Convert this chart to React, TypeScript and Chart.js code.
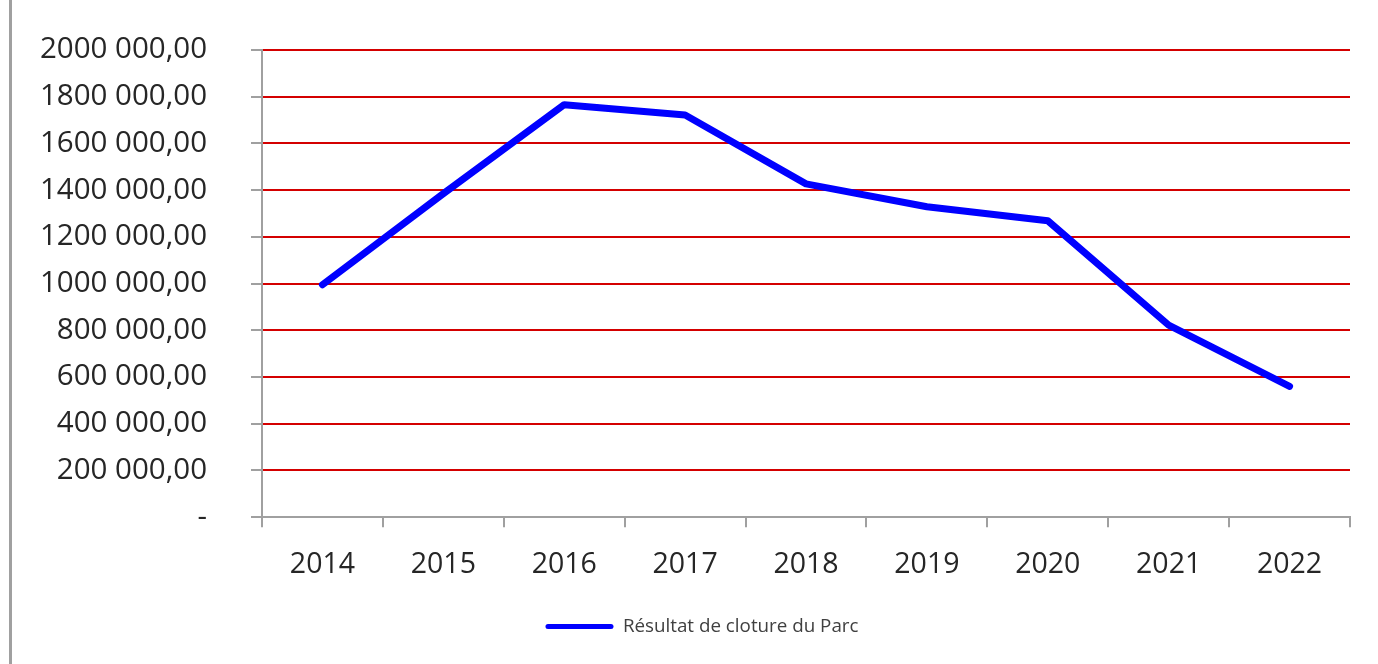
import React, { useEffect, useRef } from 'react';
import { Chart, registerables } from 'chart.js';

Chart.register(...registerables);

const years = ['2014', '2015', '2016', '2017', '2018', '2019', '2020', '2021', '2022'];
const resultat = [995000, 1385000, 1766000, 1722000, 1427000, 1329000, 1269000, 822000, 560000];
const yTickLabels = [
  '-',
  '200 000,00',
  '400 000,00',
  '600 000,00',
  '800 000,00',
  '1000 000,00',
  '1200 000,00',
  '1400 000,00',
  '1600 000,00',
  '1800 000,00',
  '2000 000,00',
];
const seriesLabel = 'Résultat de cloture du Parc';

const FONT = "'Open Sans', sans-serif";
const AXIS_GREY = '#a0a0a0';
const PAD_LEFT = 54;

export default function App() {
  const canvasRef = useRef<HTMLCanvasElement | null>(null);

  useEffect(() => {
    if (!canvasRef.current) return;
    const chart = new Chart(canvasRef.current, {
      type: 'line',
      data: {
        labels: years,
        datasets: [
          {
            label: seriesLabel,
            data: resultat,
            borderColor: '#0000ff',
            backgroundColor: '#0000ff',
            borderWidth: 7,
            borderCapStyle: 'round',
            borderJoinStyle: 'round',
            pointRadius: 0,
            pointHoverRadius: 0,
            tension: 0,
            fill: false,
          },
        ],
      },
      options: {
        animation: false,
        responsive: true,
        maintainAspectRatio: false,
        layout: { padding: { top: 50, left: PAD_LEFT, right: 28, bottom: 18 } },
        plugins: {
          tooltip: { enabled: false },
          legend: {
            position: 'bottom',
            labels: {
              font: { family: FONT, size: 18.8 },
              color: '#404040',
              boxWidth: 68,
              boxHeight: 5,
              padding: 10,
              generateLabels: () => [
                {
                  text: seriesLabel,
                  fillStyle: '#0000ff',
                  strokeStyle: '#0000ff',
                  lineWidth: 0,
                  borderRadius: 2.5,
                  datasetIndex: 0,
                  hidden: false,
                  fontColor: '#404040',
                } as any,
              ],
            },
          },
        },
        scales: {
          x: {
            offset: true,
            grid: {
              display: true,
              offset: true,
              drawOnChartArea: false,
              drawTicks: true,
              tickLength: 10,
              tickColor: AXIS_GREY,
              tickWidth: 2,
              color: AXIS_GREY,
              lineWidth: 2,
            },
            border: { display: true, color: AXIS_GREY, width: 2 },
            ticks: {
              font: { family: FONT, size: 28.5 },
              color: '#262626',
              padding: 21,
              maxRotation: 0,
              autoSkip: false,
            },
            afterFit: (scale: any) => {
              scale.height = 90;
            },
          },
          y: {
            min: 0,
            max: 2000000,
            ticks: {
              stepSize: 200000,
              font: { family: FONT, size: 29.5 },
              color: '#262626',
              padding: 44,
              callback: (_v: any, i: number) => yTickLabels[i],
            },
            grid: {
              drawTicks: true,
              tickLength: 11,
              tickColor: AXIS_GREY,
              tickWidth: 2,
              lineWidth: 2,
              color: (ctx: any) => (ctx.tick && ctx.tick.value === 0 ? 'rgba(0,0,0,0)' : '#d40000'),
            },
            border: { display: true, color: AXIS_GREY, width: 2 },
            afterFit: (scale: any) => {
              scale.width = 262 - PAD_LEFT;
              scale.paddingTop = 18;
              scale.paddingBottom = 18;
              scale._computeLabelArea = () => undefined;
            },
          },
        },
      },
    });
    return () => chart.destroy();
  }, []);

  return (
    <div style={{ position: 'absolute', left: 0, top: 0, width: 1378, height: 664, background: '#ffffff' }}>
      <div style={{ position: 'absolute', left: 9, top: 0, width: 3, height: 664, background: AXIS_GREY }} />
      <canvas ref={canvasRef} />
    </div>
  );
}
